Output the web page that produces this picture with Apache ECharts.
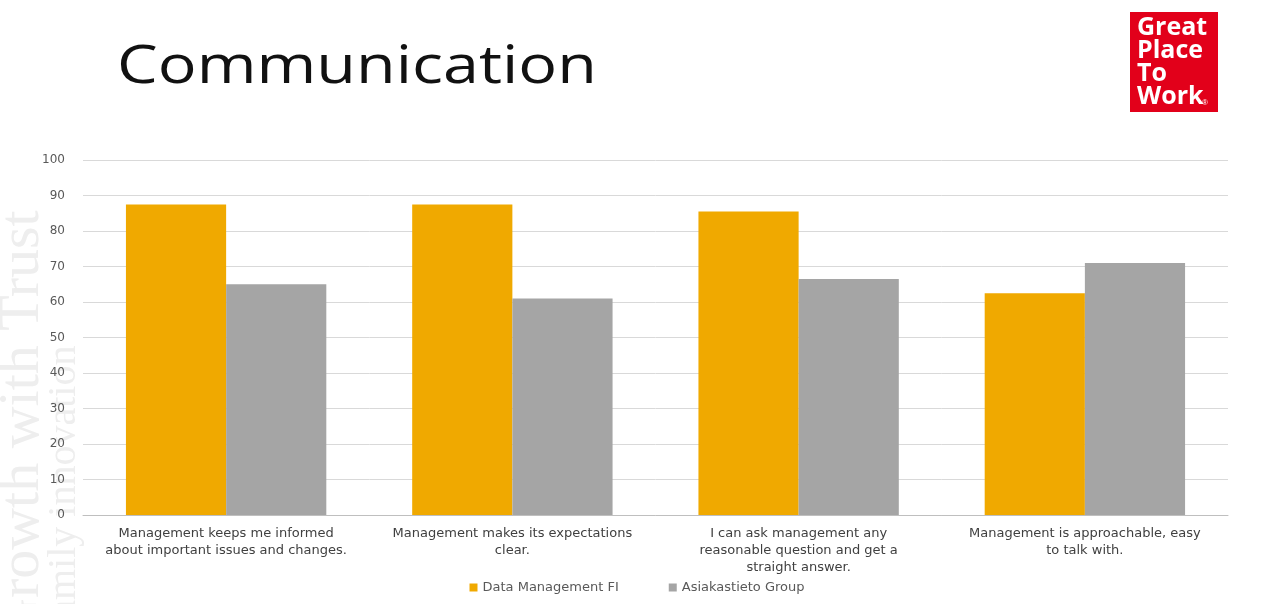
<!DOCTYPE html>
<html>
<head>
<meta charset="utf-8">
<script src="https://cdn.jsdelivr.net/npm/echarts@6/dist/echarts.min.js"></script>
<style>
  html, body { margin: 0; padding: 0; background: #fff; }
  #chart { width: 1274px; height: 604px; }
</style>
</head>
<body>
<div id="chart"></div>
<script>
const categories = [
  'Management keeps me informed\nabout important issues and changes.',
  'Management makes its expectations\nclear.',
  'I can ask management any\nreasonable question and get a\nstraight answer.',
  'Management is approachable, easy\nto talk with.'
];
const seriesNames = ['Data Management FI', 'Asiakastieto Group'];
const dataManagementFI = [87.5, 87.5, 85.5, 62.5];
const asiakastietoGroup = [65, 61, 66.5, 71];
const yTicks = [0, 10, 20, 30, 40, 50, 60, 70, 80, 90, 100];

const chart = echarts.init(document.getElementById('chart'));
const font = '"DejaVu Sans", "Open Sans", sans-serif';

chart.setOption({
  backgroundColor: '#ffffff',
  animation: false,
  textStyle: { fontFamily: font },
  graphic: [
    { type: 'text', z: -10, rotation: Math.PI / 2, x: -6, y: 640,
      style: { text: 'Growth with Trust', fill: '#eeeeee', font: '58px "Liberation Serif", serif' } },
    { type: 'text', z: -10, rotation: Math.PI / 2, x: 44, y: 640,
      style: { text: 'Family innovation', fill: '#eeeeee', font: '40px "Liberation Serif", serif' } },
    { type: 'text', x: 117, y: 41, scaleX: 1.22,
      style: { text: 'Communication', fill: '#111111', font: '53px "Open Sans", sans-serif' } },
    { type: 'rect', shape: { x: 1130, y: 12, width: 88, height: 100 },
      style: { fill: '#e2001a' } },
    { type: 'text', x: 1137, y: 16,
      style: { text: 'Great\nPlace\nTo\nWork', fill: '#ffffff', font: 'bold 25px "Open Sans", sans-serif', lineHeight: 23 } },
    { type: 'text', x: 1202, y: 99,
      style: { text: '®', fill: '#ffffff', font: '8px sans-serif' } }
  ],
  legend: {
    bottom: 5,
    left: 'center',
    itemWidth: 8,
    itemHeight: 8,
    itemGap: 50,
    icon: 'rect',
    textStyle: { color: '#595959', fontSize: 13, fontFamily: font },
    data: seriesNames
  },
  grid: { left: 83, right: 46, top: 160, bottom: 89 },
  xAxis: {
    type: 'category',
    data: categories,
    axisLine: { lineStyle: { color: '#bfbfbf' } },
    axisTick: { show: false },
    axisLabel: { color: '#404040', fontSize: 13, lineHeight: 17, margin: 10, interval: 0, fontFamily: font }
  },
  yAxis: {
    type: 'value',
    min: 0,
    max: 100,
    interval: 10,
    axisLine: { show: false },
    axisTick: { show: false },
    axisLabel: { color: '#595959', fontSize: 12, margin: 18, fontFamily: font,
      formatter: v => yTicks.includes(v) ? String(v) : '' },
    splitLine: { lineStyle: { color: '#d9d9d9' } }
  },
  series: [
    { name: seriesNames[0], type: 'bar', data: dataManagementFI, barGap: '0%', barCategoryGap: '30%',
      itemStyle: { color: '#f0a900' } },
    { name: seriesNames[1], type: 'bar', data: asiakastietoGroup,
      itemStyle: { color: '#a5a5a5' } }
  ]
});
</script>
</body>
</html>
